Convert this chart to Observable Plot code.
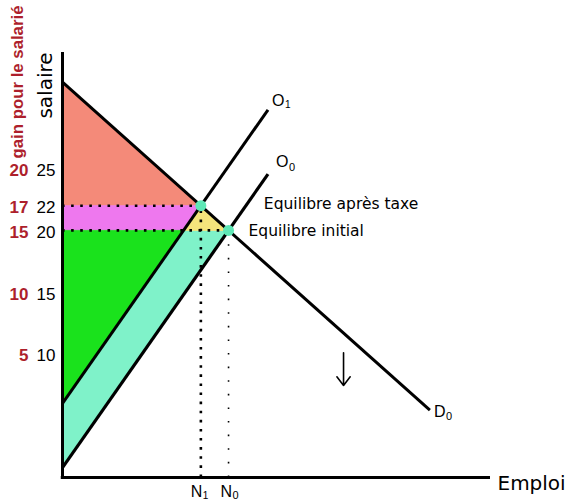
<!DOCTYPE html>
<html>
<head>
<meta charset="utf-8">
<script src="https://cdn.jsdelivr.net/npm/d3@7"></script>
<script src="https://cdn.jsdelivr.net/npm/@observablehq/plot@0.6"></script>
<style>
  html, body { margin: 0; padding: 0; background: #fff; }
  #chart svg { display: block; }
</style>
</head>
<body>
<div id="chart"></div>
<script>
// ---- data (N = emploi, w = salaire) ----
const demand = [{N: 0, w: 32}, {N: 88.5, w: 5.45}];            // D0
const supply0 = [{N: 0, w: 0.8}, {N: 49.5, w: 24.56}];          // O0
const supply1 = [{N: 0, w: 6}, {N: 49.5, w: 29.76}];            // O1 (après taxe)
const eqAfter = {N: 33.33, w: 22};                               // Equilibre après taxe
const eqInit = {N: 40, w: 20};                                   // Equilibre initial
const o1At20 = {N: 29.17, w: 20};

const salaryTicks = [25, 22, 20, 15, 10];
const gainTicks = ["20", "17", "15", "10", "5"];

const salmonPoly = [{N: 0, w: 32}, eqAfter, {N: 0, w: 22}];
const pinkPoly = [{N: 0, w: 22}, eqAfter, o1At20, {N: 0, w: 20}];
const greenPoly = [{N: 0, w: 20}, o1At20, {N: 0, w: 6}];
const aquaPoly = [{N: 0, w: 6}, o1At20, eqInit, {N: 0, w: 0.8}];
const yellowPoly = [eqAfter, o1At20, eqInit];

const arrowData = [{N: 67.7, w1: 10.1, w2: 7.45}];

// ---- chart ----
const font = "'Liberation Sans', Arial, sans-serif";
const wide = "'DejaVu Sans', Verdana, sans-serif";
const red = "#ad1f2c";
const tickRows = salaryTicks.map((s, i) => ({s, g: gainTicks[i]}));
const poly = (data, color) => Plot.line(data, {x: "N", y: "w", fill: color, stroke: color, strokeWidth: 0.8});

const chart = Plot.plot({
  width: 568,
  height: 502,
  marginLeft: 62,
  marginRight: 78,
  marginTop: 52,
  marginBottom: 25,
  x: {domain: [0, 103.1], axis: null},
  y: {domain: [0, 34.4], axis: null},
  style: {fontFamily: font, background: "white", color: "black"},
  marks: [
    poly(salmonPoly, "#f48a79"),
    poly(pinkPoly, "#ee78ee"),
    poly(greenPoly, "#1ae21c"),
    poly(aquaPoly, "#7ff2c9"),
    poly(yellowPoly, "#f4e47c"),
    // dotted guides
    Plot.ruleY([eqAfter, eqInit], {y: "w", x1: 0, x2: "N", stroke: "black", strokeWidth: 2.6, strokeDasharray: "2.6,6.5"}),
    Plot.ruleX([eqAfter], {x: "N", y1: 0, y2: "w", stroke: "black", strokeWidth: 2.6, strokeDasharray: "2.6,6.5"}),
    Plot.ruleX([eqInit], {x: "N", y1: 0, y2: "w", stroke: "black", strokeWidth: 1.6, strokeDasharray: "1.6,12"}),
    // curves
    Plot.line(demand, {x: "N", y: "w", stroke: "black", strokeWidth: 3, strokeLinecap: "butt"}),
    Plot.line(supply0, {x: "N", y: "w", stroke: "black", strokeWidth: 3.2, strokeLinecap: "butt"}),
    Plot.line(supply1, {x: "N", y: "w", stroke: "black", strokeWidth: 3, strokeLinecap: "butt"}),
    // axes
    Plot.ruleX([0], {y1: 0, y2: 34.4, stroke: "black", strokeWidth: 3}),
    Plot.ruleY([0], {x1: -0.3, x2: 103.1, stroke: "black", strokeWidth: 3}),
    // tick labels
    Plot.text(tickRows, {frameAnchor: "left", y: "s", text: d => String(d.s), dx: -7, dy: 2, textAnchor: "end", fontSize: 17, fill: "black"}),
    Plot.text(tickRows, {frameAnchor: "left", y: "s", text: "g", dx: -34, dy: 2, textAnchor: "end", fontSize: 17, fontWeight: "bold", fill: red}),
    // axis titles
    Plot.text(["salaire"], {frameAnchor: "top-left", dx: -17, dy: 33, rotate: -90, textAnchor: "middle", lineAnchor: "middle", fontSize: 20, fontFamily: wide, fill: "black"}),
    Plot.text(["gain pour le salarié"], {frameAnchor: "top-left", dx: -45, dy: 29.5, rotate: -90, textAnchor: "middle", lineAnchor: "middle", fontSize: 16.8, fontWeight: "bold", fill: red}),
    Plot.text(["Emploi"], {x: 103.1, y: 0, dx: 7, dy: 6, textAnchor: "start", fontSize: 20, fontFamily: wide, fill: "black"}),
    // equilibrium points
    Plot.dot([eqAfter, eqInit], {x: "N", y: "w", r: 5.5, fill: "#5fe8b6", stroke: "none"}),
    Plot.text([eqAfter], {x: "N", y: "w", text: () => "Equilibre après taxe", dx: 63, dy: -2, textAnchor: "start", fontSize: 15.5, fontFamily: wide, fill: "black"}),
    Plot.text([eqInit], {x: "N", y: "w", text: () => "Equilibre initial", dx: 20, dy: 1, textAnchor: "start", fontSize: 15.5, fontFamily: wide, fill: "black"}),
    // curve labels with subscripts
    Plot.text([supply1[1]], {x: "N", y: "w", text: () => "O", dx: 4, dy: -9, textAnchor: "start", fontSize: 16}),
    Plot.text([supply1[1]], {x: "N", y: "w", text: () => "1", dx: 17, dy: -5, textAnchor: "start", fontSize: 10}),
    Plot.text([supply0[1]], {x: "N", y: "w", text: () => "O", dx: 8, dy: -12, textAnchor: "start", fontSize: 16}),
    Plot.text([supply0[1]], {x: "N", y: "w", text: () => "0", dx: 21, dy: -7, textAnchor: "start", fontSize: 11}),
    Plot.text([demand[1]], {x: "N", y: "w", text: () => "D", dx: 4, dy: 2, textAnchor: "start", fontSize: 16}),
    Plot.text([demand[1]], {x: "N", y: "w", text: () => "0", dx: 16, dy: 6, textAnchor: "start", fontSize: 11}),
    Plot.text([eqAfter], {x: "N", y: 0, text: () => "N", dx: -10, dy: 14, textAnchor: "start", fontSize: 16}),
    Plot.text([eqAfter], {x: "N", y: 0, text: () => "1", dx: 2, dy: 18, textAnchor: "start", fontSize: 10}),
    Plot.text([eqInit], {x: "N", y: 0, text: () => "N", dx: -8, dy: 14, textAnchor: "start", fontSize: 16}),
    Plot.text([eqInit], {x: "N", y: 0, text: () => "0", dx: 4, dy: 18, textAnchor: "start", fontSize: 11}),
    // shift arrow
    Plot.arrow(arrowData, {x1: "N", x2: "N", y1: "w1", y2: "w2", stroke: "black", strokeWidth: 1.6, headLength: 11, headAngle: 75})
  ]
});
document.getElementById("chart").appendChild(chart);
</script>
</body>
</html>
